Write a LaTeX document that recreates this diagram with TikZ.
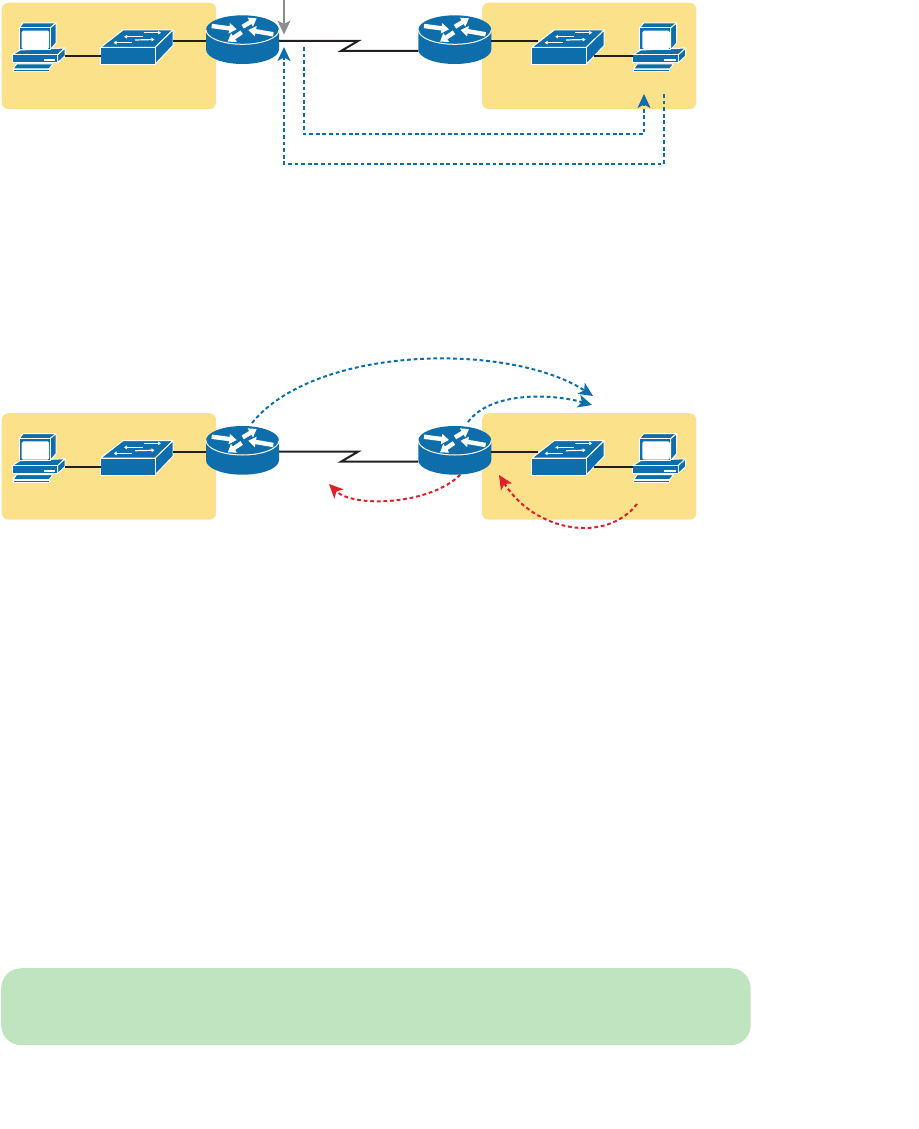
\documentclass[tikz,border=0pt]{standalone}
\usepackage{tikz}
\usetikzlibrary{arrows.meta,positioning,calc}
\usepackage{xcolor}
\definecolor{icblue}{HTML}{0D6EAB}
\definecolor{zoneyel}{HTML}{FCE18B}
\definecolor{notegrn}{HTML}{C1E4C0}
\definecolor{flowred}{HTML}{E0202A}
\definecolor{wirek}{HTML}{231F20}
\definecolor{probeg}{HTML}{8C8C8C}
\begin{document}
\begin{tikzpicture}[x=1pt,y=-1pt,
        zone/.style={fill=zoneyel,rounded corners=7pt,anchor=north west,inner sep=0pt,
          minimum width=214.5pt,minimum height=106.5pt},
        note/.style={fill=notegrn,rounded corners=20pt,anchor=north west,inner sep=0pt,
          minimum width=749.5pt,minimum height=77pt},
        wire/.style={draw=wirek,line width=2pt},
        icon/.style={fill=icblue,draw=white,line width=1pt,line join=round},
        bar/.style={-{Triangle[length=7.5pt,width=10pt]},white,line width=4.4pt},
        thin/.style={-{Triangle[length=3pt,width=3.6pt]},white,line width=1.2pt},
        blue/.style={-{Stealth[length=14pt,width=13pt,inset=3.5pt]},icblue,line width=2pt,dash pattern=on 3.8pt off 2.8pt},
        red/.style={-{Stealth[length=14pt,width=13pt,inset=3.5pt]},flowred,line width=2pt,dash pattern=on 3.8pt off 2.8pt},
        pics/pc/.style={code={
          \draw[icon] (7,5)--(11,0)--(44,0)--(38,5)--cycle;
          \draw[icon] (38,5)--(44,0)--(44,20)--(38,27)--cycle;
          \draw[icon] (0,32)--(8,27)--(53,25)--(45.5,32)--cycle;
          \draw[icon] (45.5,32)--(53,25)--(53,33)--(45.5,40)--cycle;
          \draw[icon] (0,32) rectangle (45.5,40);
          \draw[icon] (7,5) rectangle (38,27);
          \fill[white,rounded corners=1.5pt] (9.7,7.7) rectangle (37.2,26);
          \fill[white] (31.5,36) rectangle (43,38);
          \draw[icon] (4.5,41)--(41,41)--(37,46)--(1,46)--cycle;
          \draw[icon] (1,46.3) rectangle (37,48.5);
          \coordinate (-l) at (0,33);
          \coordinate (-r) at (53,33);}},
        pics/sw/.style={code={
          \draw[icon] (0,17.5)--(22.5,0)--(72.5,0)--(54.5,17.5)--cycle;
          \draw[icon] (54.5,17.5)--(72.5,0)--(72.5,15.5)--(54.5,34.3)--cycle;
          \draw[icon] (0,17.5) rectangle (54.5,34.3);
          \draw[thin] (42,6.7)--(23.5,6.7);
          \draw[thin] (43,2.7)--(60.5,2.7);
          \draw[thin] (34.5,10)--(54,9.5);
          \draw[thin] (31,12.7)--(13,12.7);
          \coordinate (-fl) at (0,26);
          \coordinate (-tr) at (72.5,11);
          \coordinate (-tl) at (6.5,11);
          \coordinate (-fr) at (62.6,26);}},
        pics/rt/.style={code={
          \fill[icblue] (0,14.5)--(0,34.2) arc[start angle=180,end angle=360,x radius=36.5,y radius=-14.5]
            --(73,14.5) arc[start angle=0,end angle=180,x radius=36.5,y radius=-14.5]--cycle;
          \draw[white,line width=1pt] (0,14.5) arc[start angle=180,end angle=360,x radius=36.5,y radius=-14.5];
          \draw[bar] (5.7,10.7)--(30.7,14);
          \draw[bar] (36.7,11.4)--(50.7,3);
          \draw[bar] (67.3,19)--(42.3,14.7);
          \draw[bar] (35.7,17)--(21.7,26.4);
          \coordinate (-l) at (0,25.7);
          \coordinate (-r) at (73,25.7);
          \coordinate (-b) at (42,48.7);}}]
        \useasboundingbox (0,0) rectangle (918,1129);
        % top network
        \node[zone] (lana) at (1.5,2.5) {};
        \node[zone] (lanb) at (481.7,2.5) {};
        \coordinate (kinka) at (358,41);
        \coordinate (kinkb) at (341,51);
        \draw[wire] (279,41)--(kinka)--(kinkb)--(418.3,51);
        \pic (pca) at (12,23) {pc};
        \pic (swa) at (100.5,30) {sw};
        \pic (ra) at (206,15.3) {rt};
        \pic (rb) at (418.3,15.3) {rt};
        \pic (swb) at (531.7,30) {sw};
        \pic (pcb) at (632.6,23) {pc};
        \draw[wire] (pca-r)--(swa-fl);
        \draw[wire] (swa-tr)--(ra-l);
        \draw[wire] (rb-r)--(swb-tl);
        \draw[wire] (swb-fr)--(pcb-l);
        % trace arrows
        \coordinate (probe) at (284,0);
        \coordinate (probetip) at (284,34.5);
        \draw[-{Stealth[length=14pt,width=13pt,inset=3.5pt]},probeg,line width=2pt] (probe)--(probetip);
        \coordinate (outa) at (303.7,47);
        \coordinate (ina) at (644,94);
        \coordinate (outb) at (664,94);
        \coordinate (inb) at (284,47);
        \draw[blue] (outa)--++(0,87)-|(ina);
        \draw[blue] (outb)--++(0,70)-|(inb);
        % middle network
        \node[zone] (lanc) at (1.5,413) {};
        \node[zone] (land) at (481.7,413) {};
        \coordinate (kinkc) at (358,451.7);
        \coordinate (kinkd) at (341,461.7);
        \draw[wire] (279,451.7)--(kinkc)--(kinkd)--(418.3,461.7);
        \pic (pcc) at (12,433.7) {pc};
        \pic (swc) at (100.5,440.7) {sw};
        \pic (rc) at (206,426) {rt};
        \pic (rd) at (418.3,426) {rt};
        \pic (swd) at (531.7,440.7) {sw};
        \pic (pcd) at (632.6,433.7) {pc};
        \draw[wire] (pcc-r)--(swc-fl);
        \draw[wire] (swc-tr)--(rc-l);
        \draw[wire] (rd-r)--(swd-tl);
        \draw[wire] (swd-fr)--(pcd-l);
        % arcs
        \coordinate (arca) at (252,423);
        \coordinate (arcb) at (593,396);
        \coordinate (arcc) at (468,422);
        \coordinate (arcd) at (592,405);
        \coordinate (arce) at (637,504);
        \coordinate (arcf) at (499,475);
        \coordinate (arcg) at (329,484);
        \draw[blue] (arca) .. controls (315,345) and (510,342) .. (arcb);
        \draw[blue] (arcc) .. controls (490,392) and (550,393) .. (arcd);
        \draw[red] (rd-b) .. controls (430,505) and (353,508) .. (arcg);
        \draw[red] (arce) .. controls (606,544) and (535,532) .. (arcf);
        % bottom band
        \node[note] (band) at (1,968) {};
      \end{tikzpicture}
\end{document}
